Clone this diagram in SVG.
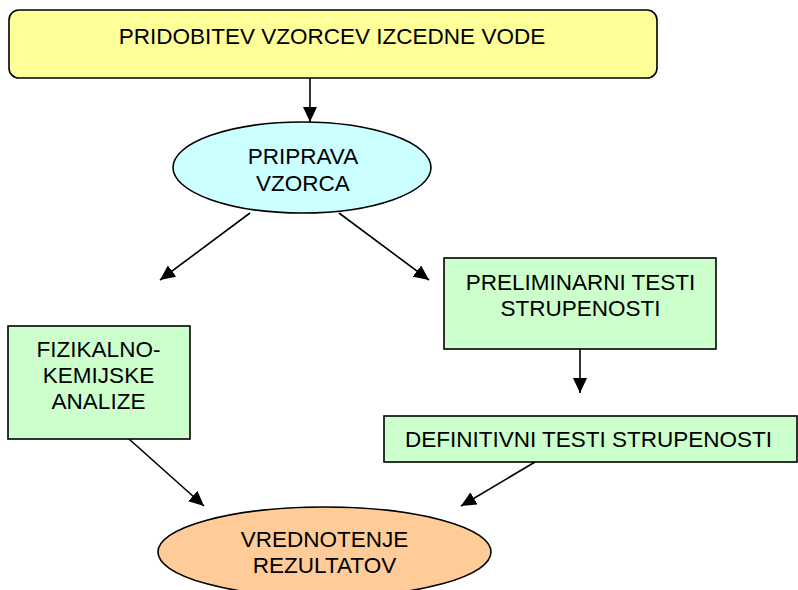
<svg xmlns="http://www.w3.org/2000/svg" width="798" height="590" viewBox="0 0 798 590">
<style>
.n{stroke:#000;stroke-width:1.6}
.t{font-family:"Liberation Sans",Arial,sans-serif;font-size:22.5px;fill:#000;text-anchor:middle}
.c{stroke:#000;stroke-width:1.6;fill:none;marker-end:url(#ah)}
</style>
<defs>
<marker id="ah" markerUnits="userSpaceOnUse" markerWidth="15" markerHeight="14" refX="15" refY="7" orient="auto">
<path d="M0,0 L15,7 L0,14 z" fill="#000"/>
</marker>
</defs>
<rect width="798" height="590" fill="#fff"/>
<g id="connectors">
<line class="c" x1="310" y1="78" x2="310" y2="122"/>
<line class="c" x1="250" y1="213" x2="160" y2="280"/>
<line class="c" x1="339" y1="213" x2="429" y2="280"/>
<line class="c" x1="580" y1="349" x2="580" y2="393"/>
<line class="c" x1="129" y1="439" x2="204" y2="506"/>
<line class="c" x1="535" y1="462" x2="461" y2="506"/>
</g>
<g id="pridobitev">
<rect class="n" x="9" y="10" width="648" height="68" rx="10" fill="#FFFF99"/>
<text class="t" x="332" y="44">PRIDOBITEV VZORCEV IZCEDNE VODE</text>
</g>
<g id="priprava">
<ellipse class="n" cx="302" cy="167.5" rx="129" ry="45.5" fill="#CCFFFF"/>
<text class="t" x="303" y="164">PRIPRAVA</text>
<text class="t" x="303" y="191">VZORCA</text>
</g>
<g id="preliminarni">
<rect class="n" x="444" y="258" width="272" height="91" fill="#CCFFCC"/>
<text class="t" x="580.5" y="290">PRELIMINARNI TESTI</text>
<text class="t" x="580.5" y="316">STRUPENOSTI</text>
</g>
<g id="definitivni">
<rect class="n" x="384" y="416" width="413" height="46" fill="#CCFFCC"/>
<text class="t" x="588.5" y="447">DEFINITIVNI TESTI STRUPENOSTI</text>
</g>
<g id="fizikalno">
<rect class="n" x="8" y="326" width="182" height="113" fill="#CCFFCC"/>
<text class="t" x="98.5" y="357">FIZIKALNO-</text>
<text class="t" x="98.5" y="383">KEMIJSKE</text>
<text class="t" x="98.5" y="409">ANALIZE</text>
</g>
<g id="vrednotenje">
<ellipse class="n" cx="324.5" cy="552" rx="166.5" ry="45" fill="#FFCC99"/>
<text class="t" x="324.5" y="547">VREDNOTENJE</text>
<text class="t" x="324.5" y="573">REZULTATOV</text>
</g>
</svg>
